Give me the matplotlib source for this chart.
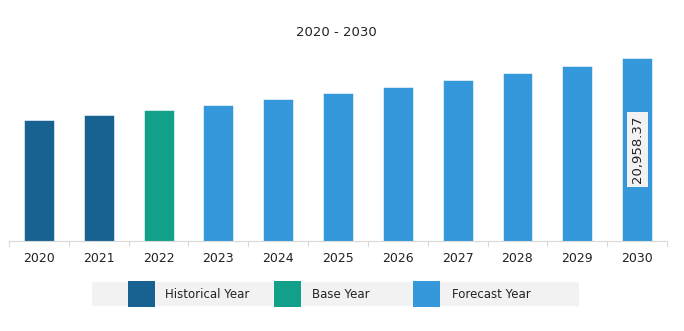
import matplotlib.pyplot as plt
from matplotlib.patches import Rectangle

years = ["2020", "2021", "2022", "2023", "2024", "2025", "2026", "2027", "2028", "2029", "2030"]
values = [13858, 14430, 15003, 15576, 16263, 16950, 17637, 18439, 19240, 20042, 20958.37]
kinds = ["Historical Year", "Historical Year", "Base Year"] + ["Forecast Year"] * 8
colors = {"Historical Year": "#176291", "Base Year": "#13a08a", "Forecast Year": "#3498db"}

fig = plt.figure(figsize=(6.84, 3.31), dpi=100)
ax = fig.add_axes([9 / 684, 1 - 241 / 331, 658 / 684, 201 / 331])

x = list(range(len(years)))
ax.bar(x, values, width=0.5, color=[colors[k] for k in kinds], edgecolor="white", linewidth=0.4)
ax.set_xlim(-0.5, len(years) - 0.5)
ax.set_ylim(0, values[-1] * 201 / 183)

# label on the last bar
ax.text(x[-1], values[-1] / 2, f"{values[-1]:,.2f}", rotation=90, ha="center", va="center",
        fontsize=9.5, color="#222222",
        bbox=dict(boxstyle="square,pad=0.3", facecolor="#f2f2f2", edgecolor="none"))

for s in ["top", "right", "left"]:
    ax.spines[s].set_visible(False)
ax.spines["bottom"].set_color("#d9d9d9")
ax.set_yticks([])
ax.set_xticks(x)
ax.set_xticklabels(years, fontsize=9, color="#222222")
ax.tick_params(axis="x", length=0, pad=8)
for b in [i - 0.5 for i in range(len(years) + 1)]:
    ax.plot([b, b], [0, -values[-1] * 0.03], color="#d9d9d9", lw=0.8, clip_on=False)

fig.text(336 / 684, 1 - 33 / 331, "2020 - 2030", ha="center", va="center", fontsize=9.5, color="#222222")

# legend strip
fig.patches.append(Rectangle((92 / 684, 1 - 306 / 331), 487 / 684, 24 / 331,
                             transform=fig.transFigure, facecolor="#f2f2f2", edgecolor="none"))
leg = [("Historical Year", 128, 165), ("Base Year", 274, 312), ("Forecast Year", 413, 452)]
for name, px, tx in leg:
    fig.patches.append(Rectangle((px / 684, 1 - 307 / 331), 27 / 684, 26 / 331,
                                 transform=fig.transFigure, facecolor=colors[name], edgecolor="none"))
    fig.text(tx / 684, 1 - 294 / 331, name, ha="left", va="center", fontsize=8.5, color="#222222")

fig.savefig("out.png", dpi=100)
